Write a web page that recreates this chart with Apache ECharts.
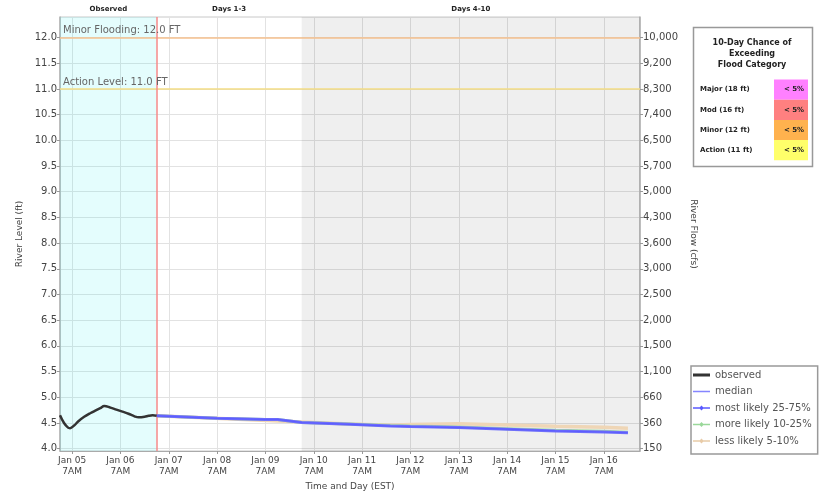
<!DOCTYPE html>
<html><head><meta charset="utf-8">
<script src="https://cdn.jsdelivr.net/npm/echarts@6/dist/echarts.min.js"></script>
<style>html,body{margin:0;padding:0;background:#fff}#c{width:824px;height:496px}</style>
</head><body><div id="c"></div>
<script>
// ---- data (hours counted from Jan 05 00:00 EST) ----
const stageTicks = [4.0,4.5,5.0,5.5,6.0,6.5,7.0,7.5,8.0,8.5,9.0,9.5,10.0,10.5,11.0,11.5,12.0];
const flowTickLabels = ['150','360','660','1,100','1,500','2,000','2,500','3,000','3,600','4,300','5,000','5,700','6,500','7,400','8,300','9,200','10,000'];
const dayTickHours = [7,31,55,79,103,127,151,175,199,223,247,271];
const dayTickLabels = ['Jan 05','Jan 06','Jan 07','Jan 08','Jan 09','Jan 10','Jan 11','Jan 12','Jan 13','Jan 14','Jan 15','Jan 16'];

const obsHours = [1,3,5,6,8,10,13,16,19,21,23,26,29,32,35,38,40,43,45,47,49];
const obsStage = [4.65,4.50,4.41,4.40,4.45,4.53,4.62,4.69,4.75,4.79,4.83,4.80,4.76,4.72,4.68,4.63,4.61,4.62,4.64,4.65,4.64];

const fcstHours = [49,55,79,103,109,115,121,145,165,175,199,223,247,271,283];
const medianStage = [4.64,4.63,4.59,4.57,4.57,4.54,4.51,4.475,4.44,4.43,4.41,4.38,4.345,4.325,4.31];
const mostLikelyStage = [4.64,4.63,4.59,4.57,4.57,4.54,4.51,4.475,4.44,4.43,4.41,4.38,4.345,4.325,4.31];
const moreLikelyStage = [4.64,4.63,4.59,4.57,4.57,4.54,4.51,4.48,4.45,4.44,4.42,4.39,4.36,4.34,4.32];
const lessLikelyHours = [49,121,145,165,175,199,223,247,271,283];
const lessLikelyStage = [4.64,4.52,4.48,4.455,4.47,4.485,4.46,4.435,4.415,4.40];

const issueHour = 49;     // Jan 07 01:00
const days4Hour = 121;    // Jan 10 01:00
const xMin = 1, xMax = 289;
const yMin = 3.955, yMax = 12.4;
const thresholds = [{name:'Minor Flooding', value:12.0, color:'#f6c18e'},{name:'Action Level', value:11.0, color:'#f3dc84'}];

const floodCats = ['Major (18 ft)','Mod (16 ft)','Minor (12 ft)','Action (11 ft)'];
const floodChance = ['< 5%','< 5%','< 5%','< 5%'];
const floodColors = ['#ff80ff','#ff8080','#ffb24e','#ffff6a'];

const zip = (xs, ys) => xs.map((x,i)=>[x, ys[i]]);
const FONT = 'DejaVu Sans';
const thickLineIcon = 'path://M0,0L17,0L17,0Z M0,3.5L17,3.5L17,6.5L0,6.5Z M0,10L17,10L17,10Z';
const thinLineIcon = 'path://M0,0L17,0L17,0Z M0,4.3L17,4.3L17,5.7L0,5.7Z M0,10L17,10L17,10Z';
const dotLineIcon = 'path://M0,0L17,0L17,0Z M0,4.3L17,4.3L17,5.7L0,5.7Z M8.5,2.6L10.9,5L8.5,7.4L6.1,5Z M0,10L17,10L17,10Z';

const chart = echarts.init(document.getElementById('c'), null, {renderer:'canvas'});

const tableEls = [];
tableEls.push({type:'rect', shape:{x:693.5,y:27.5,width:119,height:139}, style:{fill:'#fff', stroke:'#999', lineWidth:1.5}});
tableEls.push({type:'text', x:752, y:38, style:{text:'10-Day Chance of\nExceeding\nFlood Category', font:'bold 8px '+FONT, fill:'#222', align:'center', lineHeight:10.8}});
floodCats.forEach((c,i)=>{
  const y0 = 79.5 + i*20.2;
  tableEls.push({type:'rect', shape:{x:774,y:y0,width:34,height:20.2}, style:{fill:floodColors[i]}});
  tableEls.push({type:'text', x:700, y:y0+10, style:{text:c, font:'bold 7px '+FONT, fill:'#222', verticalAlign:'middle'}});
  tableEls.push({type:'text', x:794, y:y0+10, style:{text:floodChance[i], font:'bold 7px '+FONT, fill:'#222', align:'center', verticalAlign:'middle'}});
});

const option = {
  backgroundColor:'#fff',
  animation:false,
  textStyle:{fontFamily:FONT},
  grid:{left:60, right:184, top:17, bottom:43, show:true, borderColor:'#c8c8c8', borderWidth:1, backgroundColor:'transparent'},
  legend:{
    orient:'vertical', left:691, top:366,
    backgroundColor:'#fff', borderColor:'#999', borderWidth:1.5, borderRadius:0,
    padding:[4,6,8,2], itemWidth:17, itemHeight:10, itemGap:6.5,
    textStyle:{fontFamily:FONT, fontSize:10, color:'#555'},
    data:[
      {name:'observed', icon:thickLineIcon},
      {name:'median', icon:thinLineIcon},
      {name:'most likely 25-75%', icon:dotLineIcon},
      {name:'more likely 10-25%', icon:dotLineIcon},
      {name:'less likely 5-10%', icon:dotLineIcon}
    ]
  },
  xAxis:{
    type:'value', min:xMin, max:xMax,
    name:'Time and Day (EST)', nameLocation:'middle', nameGap:31,
    nameTextStyle:{fontFamily:FONT, fontSize:9, color:'#444'},
    axisLine:{show:true, onZero:false, lineStyle:{color:'#aaa', width:1}},
    axisTick:{show:true, length:3, customValues:dayTickHours, lineStyle:{color:'#999'}},
    axisLabel:{customValues:dayTickHours, fontFamily:FONT, fontSize:9, lineHeight:11, color:'#444', margin:4,
      formatter:v=>{const i=dayTickHours.indexOf(Math.round(v)); return (i>=0?dayTickLabels[i]:'')+'\n7AM';}},
    splitLine:{show:true, lineStyle:{color:'#e2e2e2', width:1}}
  },
  yAxis:[{
    type:'value', min:yMin, max:yMax, position:'left',
    name:'River Level (ft)', nameLocation:'middle', nameGap:34,
    nameTextStyle:{fontFamily:FONT, fontSize:9, color:'#444'},
    axisLine:{show:true, lineStyle:{color:'#b0b0b0', width:1.5}},
    axisTick:{show:true, length:3, customValues:stageTicks, lineStyle:{color:'#999'}},
    axisLabel:{customValues:stageTicks, fontFamily:FONT, fontSize:10, color:'#444', margin:3, formatter:v=>v.toFixed(1)},
    splitLine:{show:true, lineStyle:{color:'#e2e2e2', width:1}}
  },{
    type:'value', min:yMin, max:yMax, position:'right',
    name:'River Flow (cfs)', nameLocation:'middle', nameGap:42, nameRotate:-90,
    nameTextStyle:{fontFamily:FONT, fontSize:9, color:'#444'},
    axisLine:{show:true, lineStyle:{color:'#b0b0b0', width:1.5}},
    axisTick:{show:true, length:3, customValues:stageTicks, lineStyle:{color:'#999'}},
    axisLabel:{customValues:stageTicks, fontFamily:FONT, fontSize:10, color:'#444', margin:3,
      formatter:v=>{const i=Math.round((v-4)/0.5); return flowTickLabels[i]||'';}},
    splitLine:{show:false}
  }],
  graphic:tableEls,
  series:[
    {
      name:'zones', type:'line', data:[], silent:true,
      markArea:{silent:true,
        label:{position:'top', distance:4, fontFamily:FONT, fontSize:7, fontWeight:'bold', color:'#222'},
        data:[
          [{name:'Observed', xAxis:xMin, yAxis:yMin, itemStyle:{color:'rgba(0,235,235,0.105)'}},{xAxis:issueHour, yAxis:yMax}],
          [{name:'Days 1-3', xAxis:issueHour, yAxis:yMin, itemStyle:{color:'rgba(0,0,0,0)'}},{xAxis:days4Hour, yAxis:yMax}],
          [{name:'Days 4-10', xAxis:days4Hour, yAxis:yMin, itemStyle:{color:'rgba(0,0,0,0.063)'}},{xAxis:xMax, yAxis:yMax}]
        ]},
      markLine:{silent:true, symbol:'none', animation:false,
        data:[
          ...thresholds.map(t=>({yAxis:t.value, lineStyle:{color:t.color, width:1.5, type:'solid'},
            label:{show:true, position:'insideStartTop', distance:[3,2], formatter:t.name+': '+t.value.toFixed(1)+' FT', fontFamily:FONT, fontSize:10, color:'#666'}})),
          {xAxis:issueHour, lineStyle:{color:'#f58a8a', width:1.5, type:'solid'}, label:{show:false}}
        ]}
    },
    {name:'less likely 5-10%', type:'line', data:zip(lessLikelyHours, lessLikelyStage), symbol:'circle', symbolSize:4, showSymbol:false,
      itemStyle:{color:'#e8cba8'}, lineStyle:{color:'#efd6b6', width:3.5}, z:3},
    {name:'more likely 10-25%', type:'line', data:zip(fcstHours, moreLikelyStage), symbol:'circle', symbolSize:4, showSymbol:false,
      itemStyle:{color:'#9ad89a'}, lineStyle:{color:'#a8dca8', width:3}, z:4},
    {name:'most likely 25-75%', type:'line', data:zip(fcstHours, mostLikelyStage), symbol:'circle', symbolSize:4, showSymbol:false,
      itemStyle:{color:'#5a5aff'}, lineStyle:{color:'#7070fa', width:3}, z:5},
    {name:'median', type:'line', data:zip(fcstHours, medianStage), symbol:'none',
      itemStyle:{color:'#8585ff'}, lineStyle:{color:'#5c5cff', width:1.2}, z:6},
    {name:'observed', type:'line', data:zip(obsHours, obsStage), symbol:'none', smooth:0.4,
      itemStyle:{color:'#333'}, lineStyle:{color:'#333', width:2.5}, z:7}
  ]
};
chart.setOption(option);
</script></body></html>
